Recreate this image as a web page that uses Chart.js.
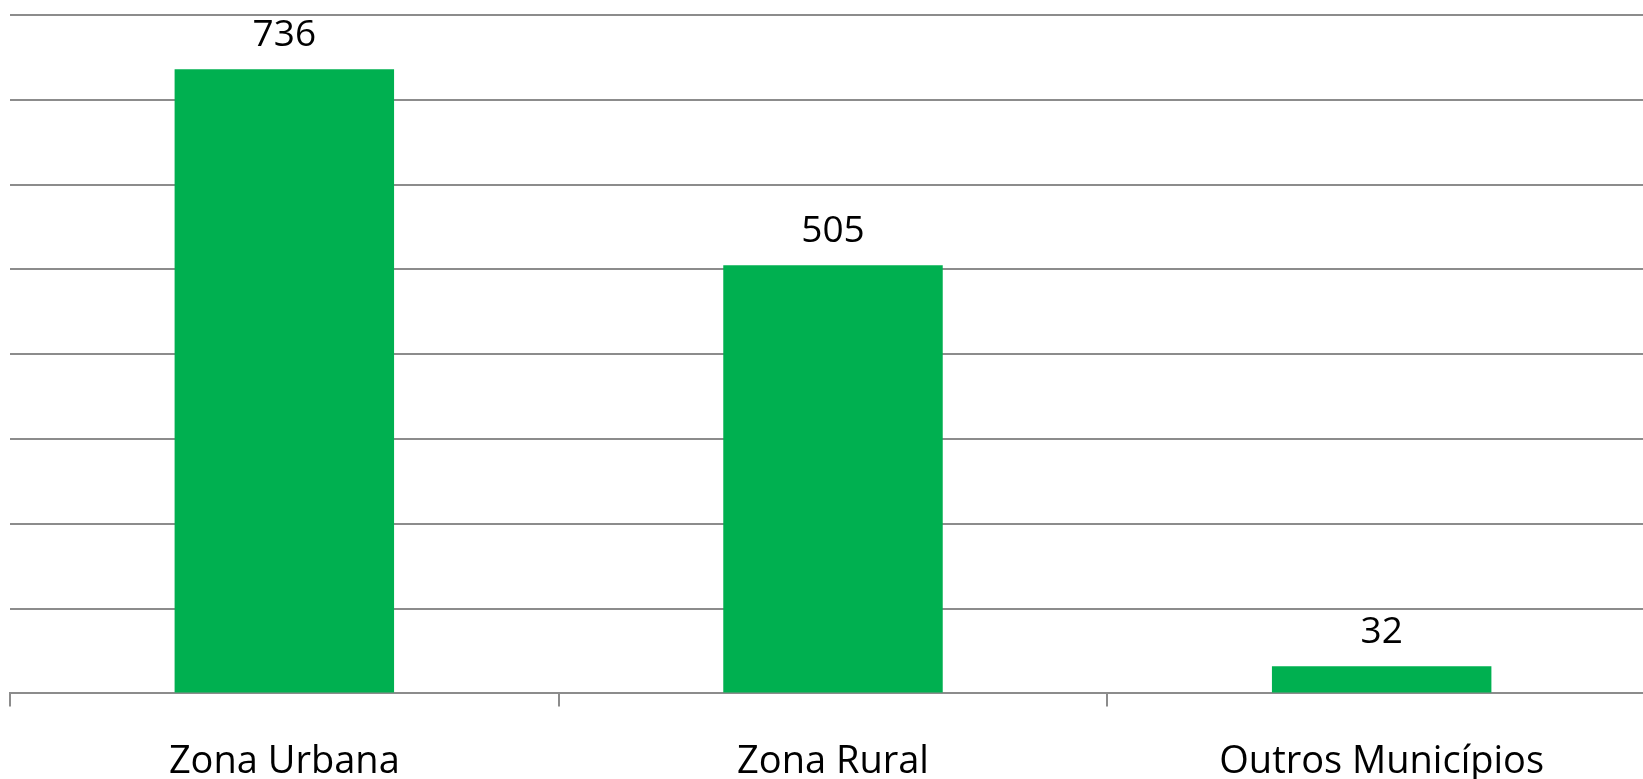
<!DOCTYPE html>
<html>
<head>
<meta charset="utf-8">
<script src="https://cdn.jsdelivr.net/npm/chart.js@4"></script>
<style>
  html, body { margin: 0; padding: 0; background: #fff; overflow: hidden; }
  #wrap { width: 1660px; height: 779px; }
</style>
</head>
<body>
<div id="wrap"><canvas id="grafico" width="1660" height="779"></canvas></div>
<script>
const categorias = ['Zona Urbana', 'Zona Rural', 'Outros Municípios'];
const quantidades = [736, 505, 32];
const escalaMax = 800;
const escalaPasso = 100;

// rótulos em cima das barras
const rotulosBarras = {
    id: 'rotulosBarras',
    afterDatasetsDraw(chart) {
        const ctx = chart.ctx;
        const meta = chart.getDatasetMeta(0);
        ctx.save();
        ctx.font = '37px "Open Sans"';
        ctx.fillStyle = '#000';
        ctx.textAlign = 'center';
        ctx.textBaseline = 'middle';
        meta.data.forEach((bar, i) => {
            ctx.fillText(String(quantidades[i]), bar.x, bar.y - 34);
        });
        ctx.restore();
    }
};

new Chart(document.getElementById('grafico'), {
    type: 'bar',
    data: {
        labels: categorias,
        datasets: [
            {
                label: 'Quantidade',
                data: quantidades,
                backgroundColor: '#00B050',
                barPercentage: 0.4,
                categoryPercentage: 1.0
            }
        ]
    },
    options: {
        responsive: false,
        animation: false,
        devicePixelRatio: 1,
        layout: {
            padding: { top: 15, left: 10, right: 4, bottom: -39 }
        },
        plugins: {
            legend: { display: false },
            tooltip: { enabled: false }
        },
        scales: {
            x: {
                offset: true,
                grid: {
                    offset: true,
                    drawOnChartArea: false,
                    drawTicks: true,
                    tickLength: 13,
                    color: '#8c8c8c',
                    lineWidth: 2
                },
                border: { display: true, color: '#8c8c8c', width: 2 },
                ticks: {
                    color: '#000',
                    padding: 33,
                    font: { family: '"Open Sans"', size: 38, lineHeight: 1.2 }
                }
            },
            y: {
                min: 0,
                max: escalaMax,
                ticks: { display: false, stepSize: escalaPasso },
                grid: { color: '#8c8c8c', lineWidth: 2, drawTicks: false },
                border: { display: false }
            }
        }
    },
    plugins: [rotulosBarras]
});
</script>
</body>
</html>
